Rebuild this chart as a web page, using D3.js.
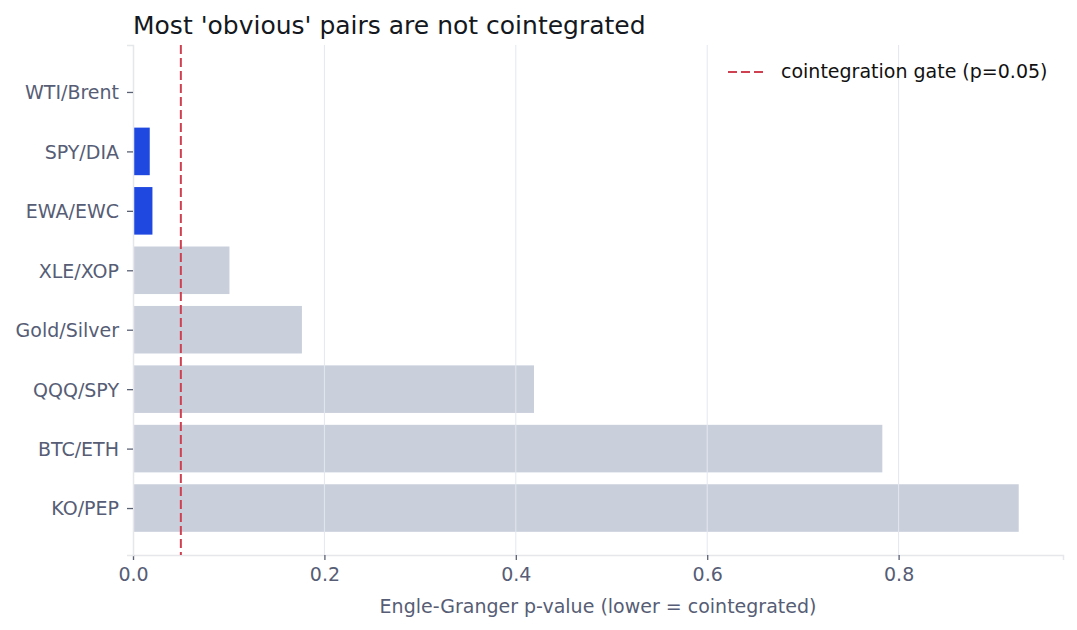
<!DOCTYPE html>
<html>
<head>
<meta charset="utf-8">
<script src="https://cdn.jsdelivr.net/npm/d3@7"></script>
<style>
  body { margin: 0; background: #fff; }
  svg { font-family: "DejaVu Sans", sans-serif; }
</style>
</head>
<body>
<div id="chart"></div>
<script>
// pairs, top to bottom
const pairs = ["WTI/Brent", "SPY/DIA", "EWA/EWC", "XLE/XOP", "Gold/Silver", "QQQ/SPY", "BTC/ETH", "KO/PEP"];
const pValues = [0.0, 0.0175, 0.0203, 0.1008, 0.1765, 0.419, 0.783, 0.9255];
const xTicks = [0.0, 0.2, 0.4, 0.6, 0.8];
const gate = 0.05;

function drawChart() {
    const margin = {top: 45, right: 14, bottom: 75, left: 133},
        width = 1077 - margin.left - margin.right,
        height = 630 - margin.top - margin.bottom;

    const svg = d3.select("#chart")
        .append("svg")
        .attr("width", width + margin.left + margin.right)
        .attr("height", height + margin.top + margin.bottom)
        .append("g")
        .attr("transform", `translate(${margin.left},${margin.top})`);

    const x = d3.scaleLinear()
        .domain([0, d3.max(pValues) * 1.05])
        .range([0, width]);

    // band centres with matplotlib-like margins
    const n = pairs.length;
    const y = d3.scaleLinear()
        .domain([-0.79, n - 1 + 0.79])
        .range([0, height]);
    const barH = y(0.8) - y(0);

    // bars
    svg.append("g")
        .selectAll("rect")
        .data(pValues)
        .enter()
        .append("rect")
        .attr("x", x(0))
        .attr("y", (d, i) => y(i) - barH / 2)
        .attr("width", d => x(d) - x(0))
        .attr("height", barH)
        .attr("fill", d => d < gate ? "#1f48e0" : "#c9cfdb");

    // vertical grid on top of bars
    svg.append("g")
        .selectAll("line")
        .data(xTicks.slice(1))
        .enter()
        .append("line")
        .attr("x1", d => x(d)).attr("x2", d => x(d))
        .attr("y1", 0).attr("y2", height)
        .attr("stroke", "#e3e7ee")
        .attr("stroke-width", 1);

    // x axis
    const xAxis = svg.append("g")
        .attr("transform", `translate(0,${height})`)
        .call(d3.axisBottom(x).tickValues(xTicks).tickFormat(d3.format(".1f")).tickSize(5).tickPadding(8));
    xAxis.select(".domain").attr("stroke", "#e5e7eb").attr("stroke-width", 1.5);
    xAxis.selectAll(".tick line").attr("stroke", "#5b6175").attr("stroke-width", 1.3);
    xAxis.selectAll(".tick text")
        .attr("fill", "#565d75")
        .style("font-size", "19px")
        .style("font-family", "DejaVu Sans");

    // y axis
    const yAxis = svg.append("g")
        .call(d3.axisLeft(y).tickValues(d3.range(n)).tickFormat(i => pairs[i]).tickSize(6).tickPadding(8));
    yAxis.select(".domain").attr("stroke", "#e5e7eb").attr("stroke-width", 1.5);
    yAxis.selectAll(".tick line").attr("stroke", "#5b6175").attr("stroke-width", 1.3);
    yAxis.selectAll(".tick text")
        .attr("fill", "#565d75")
        .attr("dy", "0.36em")
        .style("font-size", "19px")
        .style("font-family", "DejaVu Sans");

    // gate line
    svg.append("line")
        .attr("x1", x(gate)).attr("x2", x(gate))
        .attr("y1", 0).attr("y2", height)
        .attr("stroke", "#cf4050")
        .attr("stroke-width", 2)
        .attr("stroke-dasharray", "9,4");

    // legend
    const lg = svg.append("g").attr("transform", `translate(${728 - margin.left},${72 - margin.top})`);
    lg.append("line")
        .attr("x1", 0).attr("x2", 36).attr("y1", 0).attr("y2", 0)
        .attr("stroke", "#cf4050")
        .attr("stroke-width", 2)
        .attr("stroke-dasharray", "9,4");
    lg.append("text")
        .attr("x", 53).attr("y", 6)
        .style("font-size", "19px")
        .attr("fill", "#111")
        .text("cointegration gate (p=0.05)");

    // axis label
    svg.append("text")
        .attr("text-anchor", "middle")
        .attr("x", width / 2)
        .attr("y", height + 58)
        .attr("fill", "#565d75")
        .style("font-size", "19px")
        .text("Engle-Granger p-value (lower = cointegrated)");

    // title
    svg.append("text")
        .attr("x", 0)
        .attr("y", -11)
        .attr("fill", "#141820")
        .style("font-size", "25px")
        .text("Most 'obvious' pairs are not cointegrated");
}

drawChart();
</script>
</body>
</html>
